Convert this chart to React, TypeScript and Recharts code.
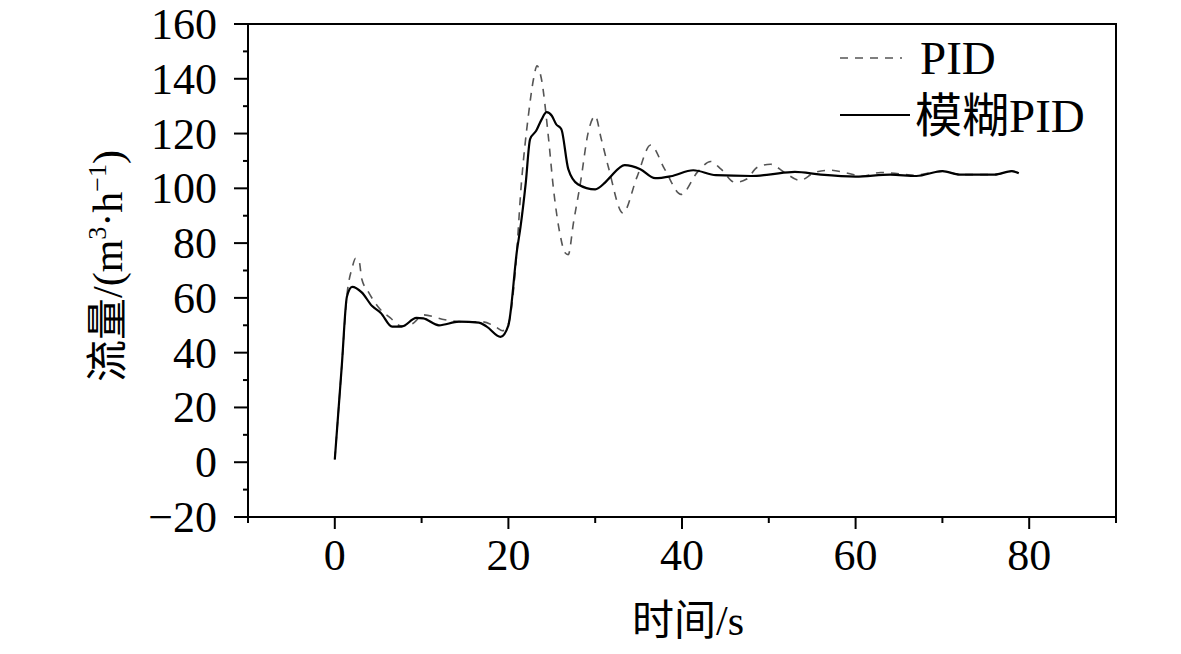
import { LineChart, Line, XAxis, YAxis, Legend, ReferenceArea } from "recharts";

// Flow response (time in s, flow in m3/h)
const pidTime = [
  0, 0.8, 1.4, 2.0, 2.4, 2.8, 3.1, 3.9, 5.1, 6.4, 7.6, 8.9, 10.2, 12.7, 14.6, 16.9,
  18.5, 19.3, 20, 20.8, 21.5, 22.3, 22.9, 23.3, 23.8, 24.6, 25.2, 26, 26.5,
  26.9, 27.5, 28.3, 29.2, 30, 30.7, 31.5, 33.2, 34.8, 36.4, 38, 39.9, 41.8,
  43.3, 44.5, 46.1, 47.4, 48.7, 50.2, 51.8, 53.6, 55.3, 57.1, 59.1, 60.8, 62.9,
  64.5, 66.8, 70, 72, 76, 78, 78.8,
];
const pidFlow = [
  1, 35, 61, 71, 74.5, 73.5, 67, 62, 56.3, 52.7, 49.8, 50.5, 53.8, 52, 51.3, 51.3,
  49.5, 48, 50.5, 70, 102, 126.5, 140, 144.7, 140, 119, 99.6, 82.4, 76.6,
  75.8, 87.5, 102, 120.5, 126.4, 118, 108, 91, 104, 115.8, 107, 97.8, 106,
  109.8, 107, 102.2, 103.3, 107.7, 108.8, 105.8, 102.9, 105.8, 106.6, 105.5,
  104.4, 105.8, 105.5, 104.8, 106.3, 105, 105, 106.3, 105.5,
];

const fuzzyTime = [
  0, 0.8, 1.4, 2.0, 3.1, 4.3, 5.3, 6.6, 7.7, 9.4, 10.2, 12, 14.3, 16.6, 17.5, 19.1,
  20, 21, 21.4, 22, 22.5, 23.2, 23.8, 24.4, 25, 25.5, 26.1, 26.9, 28, 30, 31.1,
  31.7, 33.4, 35.2, 36.9, 38.7, 41.3, 43.9, 48, 50, 53, 56, 60, 64, 67, 70, 72,
  76, 78, 78.8,
];
const fuzzyFlow = [
  1, 35, 60.5, 64, 62, 57, 54.5, 49.5, 49.5, 52.7, 52.5, 50, 51.3, 51, 49.5, 45.8,
  50, 77.6, 86, 102, 118, 121, 125, 127.8, 126.5, 123.4, 121.6, 107, 101.5,
  99.6, 102, 104, 108.5, 107, 103.7, 104.4, 106.6, 104.8, 104.5, 105, 106, 105,
  104.3, 105, 104.5, 106.3, 105, 105, 106.3, 105.5,
];

const xTicks = [-10, 0, 10, 20, 30, 40, 50, 60, 70, 80, 90];
const yTicks = [-20, -10, 0, 10, 20, 30, 40, 50, 60, 70, 80, 90, 100, 110, 120, 130, 140, 150, 160];

const pidData = pidTime.map((t, i) => ({ t, v: pidFlow[i] }));
const fuzzyData = fuzzyTime.map((t, i) => ({ t, v: fuzzyFlow[i] }));

const font = "'Liberation Serif', 'Times New Roman', 'Noto Sans CJK SC', serif";
const latin = "'Liberation Serif', 'Times New Roman', serif";

const series = [
  { name: "PID", data: pidData, color: "#555", width: 1.6, dash: "8 7" },
  { name: "模糊PID", data: fuzzyData, color: "#000", width: 2.2, dash: undefined },
];

const fmt = (v: number) => (v < 0 ? "\u2212" + Math.abs(v) : String(v));

const XTick = ({ x, y, payload }: any) => {
  const major = payload.value % 20 === 0;
  return (
    <g>
      <line x1={x} x2={x} y1={y} y2={y + (major ? 12 : 6)} stroke="#000" strokeWidth={2} />
      {major && (
        <text x={x} y={y + 53} textAnchor="middle" fontFamily={font} fontSize={44} fill="#000">
          {fmt(payload.value)}
        </text>
      )}
    </g>
  );
};

const YTick = ({ x, y, payload }: any) => {
  const major = payload.value % 20 === 0;
  return (
    <g>
      <line x1={x - (major ? 14 : 5)} x2={x} y1={y} y2={y} stroke="#000" strokeWidth={2} />
      {major && (
        <text x={x - 31} y={y + 15} textAnchor="end" fontFamily={font} fontSize={44} fill="#000">
          {fmt(payload.value)}
        </text>
      )}
    </g>
  );
};

const YLabel = () => (
  <text
    transform="translate(122, 266) rotate(-90)"
    textAnchor="middle"
    fontFamily={font}
    fontSize={42}
    fill="#000"
  >
    流量
    <tspan fontFamily={latin}>/(m</tspan>
    <tspan dy={-16} fontSize={26} fontFamily={latin}>3</tspan>
    <tspan dy={16} fontFamily={latin}>·h</tspan>
    <tspan dy={-16} fontSize={26} fontFamily={latin}>−1</tspan>
    <tspan dy={16} fontFamily={latin}>)</tspan>
  </text>
);

const XLabel = () => (
  <text x={688} y={635} textAnchor="middle" fontFamily={font} fontSize={42} fill="#000">
    时间
    <tspan fontFamily={latin}>/s</tspan>
  </text>
);

const renderLegend = () => (
  <svg width={300} height={120}>
    {series.map((s, i) => (
      <g key={s.name}>
        <line
          x1={10}
          x2={i === 0 ? 72 : 80}
          y1={28 + i * 57}
          y2={28 + i * 57}
          stroke={s.color}
          strokeWidth={s.width}
          strokeDasharray={s.dash}
        />
        <text x={i === 0 ? 90 : 85} y={44 + i * 58} fontFamily={font} fontSize={47} fill="#000">
          {s.name}
        </text>
      </g>
    ))}
  </svg>
);

export default function App() {
  return (
    <div style={{ position: "absolute", left: 0, top: 0, background: "#fff" }}>
      <LineChart width={1181} height={654} margin={{ top: 24, right: 65, left: 0, bottom: 0 }}>
        <XAxis
          dataKey="t"
          type="number"
          domain={[-10, 90]}
          ticks={xTicks}
          allowDuplicatedCategory={false}
          height={137}
          tickSize={0}
          tickMargin={0}
          tickLine={false}
          tick={<XTick />}
          axisLine={{ stroke: "#000", strokeWidth: 2 }}
          label={<XLabel />}
        />
        <YAxis
          type="number"
          domain={[-20, 160]}
          ticks={yTicks}
          width={248}
          tickSize={0}
          tickMargin={0}
          tickLine={false}
          tick={<YTick />}
          axisLine={{ stroke: "#000", strokeWidth: 2 }}
          label={<YLabel />}
        />
        <ReferenceArea x1={-10} x2={90} y1={-20} y2={160} fill="none" stroke="#000" strokeWidth={2} />
        <Legend
          layout="vertical"
          align="center"
          verticalAlign="middle"
          content={renderLegend}
          wrapperStyle={{ left: 830, top: 30, width: 300 }}
        />
        {series.map((s) => (
          <Line
            key={s.name}
            data={s.data}
            dataKey="v"
            name={s.name}
            type="monotone"
            stroke={s.color}
            strokeWidth={s.width}
            strokeDasharray={s.dash}
            dot={false}
            activeDot={false}
            isAnimationActive={false}
          />
        ))}
      </LineChart>
    </div>
  );
}
